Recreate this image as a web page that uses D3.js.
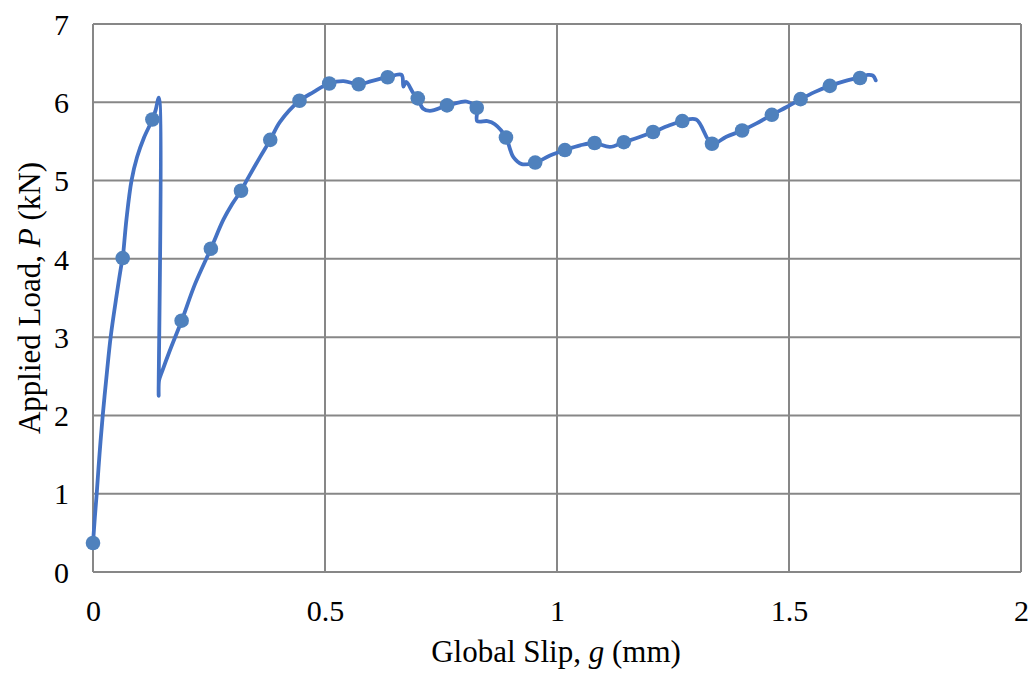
<!DOCTYPE html>
<html>
<head>
<meta charset="utf-8">
<script src="https://cdn.jsdelivr.net/npm/d3@7"></script>
<style>
  body { margin: 0; background: #fff; }
  svg { display: block; }
  text { font-family: "Liberation Serif", "Times New Roman", serif; fill: #000; }
</style>
</head>
<body>
<svg id="chart" width="1036" height="674"></svg>
<script>
// Curve (global slip g in mm, applied load P in kN)
const slip = [0.000, 0.004, 0.008, 0.014, 0.021, 0.030, 0.038, 0.050, 0.062, 0.064, 0.072, 0.083, 0.095, 0.110, 0.128, 0.135, 0.142,
  0.1415, 0.1425, 0.150, 0.165, 0.191, 0.220, 0.254, 0.281, 0.300, 0.319, 0.331, 0.360, 0.382, 0.403, 0.445, 0.475, 0.509,
  0.540, 0.5726, 0.600, 0.635, 0.665, 0.669, 0.675, 0.690, 0.700, 0.711, 0.726, 0.763, 0.790, 0.805, 0.827, 0.828, 0.850, 0.866,
  0.890, 0.900, 0.906, 0.924, 0.953, 0.985, 1.017, 1.050, 1.081, 1.114, 1.144, 1.175, 1.207, 1.240, 1.270, 1.300, 1.334, 1.365,
  1.399, 1.430, 1.463, 1.495, 1.525, 1.555, 1.588, 1.620, 1.653, 1.670, 1.681, 1.687];
const load = [0.37, 0.70, 1.00, 1.50, 2.00, 2.55, 3.00, 3.50, 3.95, 4.01, 4.50, 5.00, 5.30, 5.55, 5.78, 5.90, 6.06,
  2.25, 2.45, 2.58, 2.82, 3.21, 3.68, 4.13, 4.50, 4.70, 4.87, 5.00, 5.30, 5.52, 5.75, 6.02, 6.13, 6.24,
  6.27, 6.23, 6.27, 6.32, 6.35, 6.20, 6.26, 6.12, 6.05, 5.92, 5.89, 5.96, 6.00, 6.01, 5.93, 5.76, 5.76, 5.72,
  5.55, 5.38, 5.30, 5.21, 5.23, 5.32, 5.39, 5.45, 5.48, 5.43, 5.49, 5.55, 5.62, 5.70, 5.76, 5.78, 5.47, 5.56,
  5.64, 5.73, 5.84, 5.94, 6.04, 6.13, 6.21, 6.27, 6.32, 6.35, 6.34, 6.28];

// Markers
const markerSlip = [0.000, 0.064, 0.128, 0.191, 0.254, 0.319, 0.382, 0.445, 0.509, 0.5726, 0.635, 0.700, 0.763, 0.827, 0.890,
  0.953, 1.017, 1.081, 1.144, 1.207, 1.270, 1.334, 1.399, 1.463, 1.525, 1.588, 1.653];
const markerLoad = [0.37, 4.01, 5.78, 3.21, 4.13, 4.87, 5.52, 6.02, 6.24, 6.23, 6.32, 6.05, 5.96, 5.93, 5.55,
  5.23, 5.39, 5.48, 5.49, 5.62, 5.76, 5.47, 5.64, 5.84, 6.04, 6.21, 6.31];

const xTicks = [0, 0.5, 1, 1.5, 2];
const yTicks = [0, 1, 2, 3, 4, 5, 6, 7];
const xTitle = "Global Slip, ";
const yTitle = "Applied Load, ";

const svg = d3.select("#chart");
const m = { left: 93, right: 1021, top: 24, bottom: 572 };
const x = d3.scaleLinear().domain([0, 2]).range([m.left, m.right]);
const y = d3.scaleLinear().domain([0, 7]).range([m.bottom, m.top]);
const gridColor = "#878787";

// gridlines
const g = svg.append("g");
g.selectAll(".hg").data(yTicks).enter().append("line")
  .attr("x1", m.left).attr("x2", m.right)
  .attr("y1", d => y(d)).attr("y2", d => y(d))
  .attr("stroke", gridColor).attr("stroke-width", 2);
g.selectAll(".vg").data(xTicks).enter().append("line")
  .attr("y1", m.top).attr("y2", m.bottom)
  .attr("x1", d => x(d)).attr("x2", d => x(d))
  .attr("stroke", gridColor).attr("stroke-width", 2);

// axes (labels only)
const xAxis = d3.axisBottom(x).tickValues(xTicks).tickSize(0).tickPadding(0).tickFormat(d3.format("~g"));
const ya = d3.axisLeft(y).tickValues(yTicks).tickSize(0).tickPadding(0).tickFormat(d3.format("~g"));
const gx = svg.append("g").attr("transform", `translate(0,${m.bottom})`).call(xAxis);
gx.select(".domain").remove();
gx.selectAll("text").attr("y", 49).attr("dy", null).style("font-size", "30px").style("font-family", "Liberation Serif");
const gy = svg.append("g").attr("transform", `translate(${m.left},0)`).call(ya);
gy.select(".domain").remove();
gy.selectAll("text").attr("x", -24).attr("dy", "0.34em").style("font-size", "30px").style("font-family", "Liberation Serif");

// line
const pts = slip.map((s, i) => [s, load[i]]);
const line = d3.line().x(d => x(d[0])).y(d => y(d[1])).curve(d3.curveCatmullRom.alpha(0.5));
svg.append("path").datum(pts).attr("d", line)
  .attr("fill", "none").attr("stroke", "#4472C4").attr("stroke-width", 3.8)
  .attr("stroke-linejoin", "round").attr("stroke-linecap", "round");

// markers
const mk = markerSlip.map((s, i) => [s, markerLoad[i]]);
svg.selectAll(".mk").data(mk).enter().append("circle")
  .attr("cx", d => x(d[0])).attr("cy", d => y(d[1])).attr("r", 7.3)
  .attr("fill", "#4F81BD");

// titles
const xt = svg.append("text").attr("x", 556).attr("y", 662).attr("text-anchor", "middle").style("font-size", "31px");
xt.append("tspan").text(xTitle);
xt.append("tspan").style("font-style", "italic").text("g");
xt.append("tspan").text(" (mm)");

const yt = svg.append("text").attr("transform", "translate(40,298) rotate(-90)").attr("text-anchor", "middle").style("font-size", "31px");
yt.append("tspan").text(yTitle);
yt.append("tspan").style("font-style", "italic").text("P");
yt.append("tspan").text(" (kN)");
</script>
</body>
</html>
